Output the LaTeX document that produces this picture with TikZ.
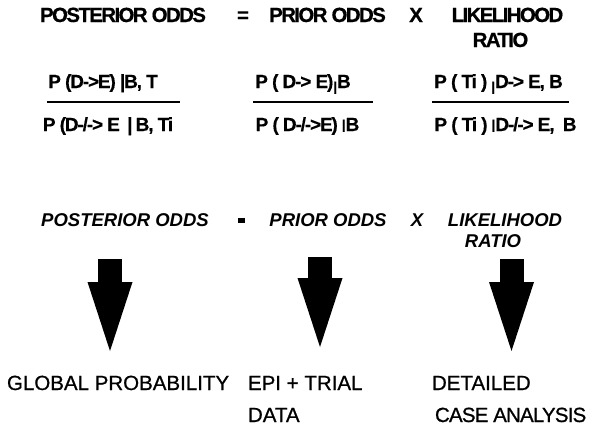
\documentclass[tikz,border=0pt]{standalone}
\usepackage{fontspec}
\setmainfont{Liberation Sans}
\usepackage{tikz}
\usetikzlibrary{arrows.meta}

\newcommand{\lowbar}{\raisebox{-3pt}{\fontsize{13}{13}\selectfont|}}
\newcommand{\highbar}{\raisebox{2pt}{\fontsize{13}{13}\selectfont|}}

\begin{document}
\begin{tikzpicture}[x=1pt,y=-1pt,every node/.style={inner sep=0pt,outer sep=0pt},
    headtxt/.style={anchor=base,font=\fontsize{20.5}{22}\selectfont\bfseries\addfontfeature{LetterSpace=-8,FakeBold=0.6}},
    fractxt/.style={anchor=base,font=\fontsize{19}{20}\selectfont\bfseries\addfontfeature{LetterSpace=-6,FakeBold=0.4}},
    italtxt/.style={anchor=base,font=\fontsize{18.5}{20}\selectfont\bfseries\itshape},
    casetxt/.style={anchor=base west,font=\fontsize{20.5}{22}\selectfont\addfontfeature{FakeBold=0.8}},
    fracline/.style={line width=2.5pt},
    bigarrow/.style={line width=24pt,-{Triangle[length=69pt,width=45pt,line width=0pt]}}]
  \useasboundingbox (0,0) rectangle (593,426);

  % equation in words
  \node[headtxt] (hPost) at (123,22) {POSTERIOR ODDS};
  \node[headtxt] (hEq) at (243,22) {=};
  \node[headtxt] (hPrior) at (327.5,22) {PRIOR ODDS};
  \node[headtxt] (hX) at (416,22) {X};
  \node[headtxt] (hLike) at (507.5,22) {LIKELIHOOD};
  \node[headtxt] (hRatio) at (500.5,47) {RATIO};

  % the three ratios
  \node[fractxt] (num1) at (103,88) {P (D->E) |B, T};
  \node[fractxt] (den1) at (108,131) {P (D-/-> E \,|\,B, Ti};
  \node[fractxt] (num2) at (303,88) {P ( D-> E)\lowbar B};
  \node[fractxt] (den2) at (307.5,131) {P ( D-/->E) \highbar B};
  \node[fractxt] (num3) at (498.5,88) {P ( Ti ) \lowbar D-> E, B};
  \node[fractxt] (den3) at (505.5,131) {P ( Ti ) \highbar D-/-> E,\ \ B};
  \draw[fracline] (47,102) -- (180,102);
  \draw[fracline] (253,102) -- (373,102);
  \draw[fracline] (432,102) -- (569,102);

  % second row
  \node[italtxt] (iPost) at (125,226) {POSTERIOR ODDS};
  \node[fill,minimum width=7pt,minimum height=5pt] (iDot) at (241,220.5) {};
  \node[italtxt] (iPrior) at (328,226) {PRIOR ODDS};
  \node[italtxt] (iX) at (417,226) {X};
  \node[italtxt] (iLike) at (505,226) {LIKELIHOOD};
  \node[italtxt] (iRatio) at (493,247) {RATIO};

  % where each factor comes from
  \node[casetxt] (glob) at (7,390) {GLOBAL PROBABILITY};
  \node[casetxt] (epi) at (248,390) {EPI + TRIAL};
  \node[casetxt] (epiData) at (248,422) {DATA};
  \node[casetxt] (detail) at (432,390) {DETAILED};
  \node[casetxt,font=\fontsize{20.5}{22}\selectfont\addfontfeature{FakeBold=0.8,LetterSpace=-4}] (detailCase) at (435,422) {CASE ANALYSIS};

  \coordinate (a1top) at (110,259);
  \coordinate (a1tip) at (110,351);
  \coordinate (a2top) at (320,257);
  \coordinate (a2tip) at (320,347);
  \coordinate (a3top) at (511.5,259);
  \coordinate (a3tip) at (511.5,351);
  \foreach \a/\b in {a1top/a1tip,a2top/a2tip,a3top/a3tip}
    \draw[bigarrow] (\a) -- (\b);
\end{tikzpicture}
\end{document}
